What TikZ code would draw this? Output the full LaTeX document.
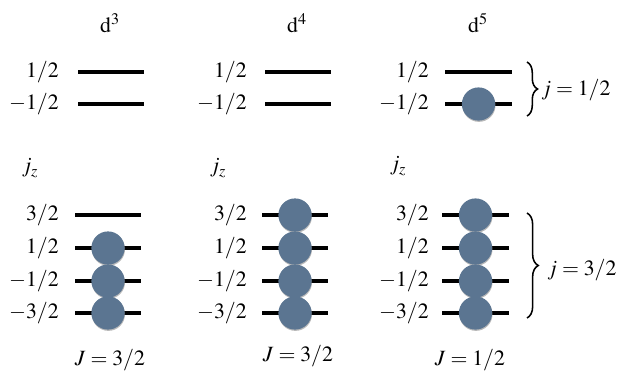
\documentclass[tikz,border=0pt]{standalone}
\usepackage{mathptmx}
\usepackage{fontspec}
\setmainfont{Liberation Serif}
\usepackage{tikz}
\usetikzlibrary{calc, decorations.pathreplacing, shadows}

\definecolor{elecblue}{RGB}{91,117,145}

\tikzset{
  level/.style={line width=2.2pt},
  mj/.style={anchor=east, inner sep=0pt},
  electron/.style={circle, fill=elecblue, minimum size=0.83cm, inner sep=0pt,
    drop shadow={shadow xshift=0.3pt, shadow yshift=-0.9pt, fill=gray, opacity=0.55}},
  brace/.style={decorate, decoration={brace, amplitude=#1}, line width=1.1pt},
}

\begin{document}
\begin{tikzpicture}[x=0.025cm, y=-0.025cm, font=\fontsize{15.5}{18}\selectfont]
	\useasboundingbox (0,0) rectangle (625,383);
	
	% Headings
	\node (h3) at (110,23) {$\mathrm{d}^3$};
	\node (h4) at (297,23) {$\mathrm{d}^4$};
	\node (h5) at (478,23) {$\mathrm{d}^5$};
	
	% Upper levels (j = 1/2)
	\foreach \c/\xa/\xb/\xt in {1/78/144/59, 2/265/331/247, 3/445/512/429}{
		\foreach \n/\y/\m in {a/72/{1/2}, b/104/{-1/2}}{
			\coordinate (u\c\n-l) at (\xa,\y);
			\coordinate (u\c\n-r) at (\xb,\y);
			\node[mj] (u\c\n-t) at (\xt,\y) {$\m$};
			\draw[level] (u\c\n-l) -- (u\c\n-r);
		}
	}
	
	% j_z labels
	\node (jz1) at (30,168) {$j_z$};
	\node (jz2) at (218,168) {$j_z$};
	\node (jz3) at (398,166) {$j_z$};
	
	% Lower levels (j = 3/2)
	\foreach \c/\xa/\xb/\xt in {1/75/141/59, 2/262/328/247, 3/442/509/429}{
		\foreach \n/\y/\m in {a/215/{3/2}, b/248/{1/2}, c/281/{-1/2}, d/313/{-3/2}}{
			\coordinate (l\c\n-l) at (\xa,\y);
			\coordinate (l\c\n-r) at (\xb,\y);
			\node[mj] (l\c\n-t) at (\xt,\y) {$\m$};
			\draw[level] (l\c\n-l) -- (l\c\n-r);
		}
	}
	
	% Electrons
	\foreach \e in {l1b, l1c, l1d, l2a, l2b, l2c, l2d, l3a, l3b, l3c, l3d, u3b}
		\node[electron] (\e-el) at ($(\e-l)!0.5!(\e-r)$) {};
	
	% Braces
	\coordinate (bu-t) at (527,62);
	\coordinate (bu-b) at (527,116);
	\draw[brace=7.5pt] (bu-t) -- (bu-b);
	\node[anchor=west, inner sep=0pt] (bu-lab) at (541,90) {$j=1/2$};
	
	\coordinate (bl-t) at (527,213);
	\coordinate (bl-b) at (527,318);
	\draw[brace=8pt] (bl-t) -- (bl-b);
	\node[anchor=west, inner sep=0pt] (bl-lab) at (547,270) {$j=3/2$};
	
	% Total J
	\node (J1) at (110,360) {$J=3/2$};
	\node (J2) at (298,356) {$J=3/2$};
	\node (J3) at (470,360) {$J=1/2$};
\end{tikzpicture}
\end{document}
